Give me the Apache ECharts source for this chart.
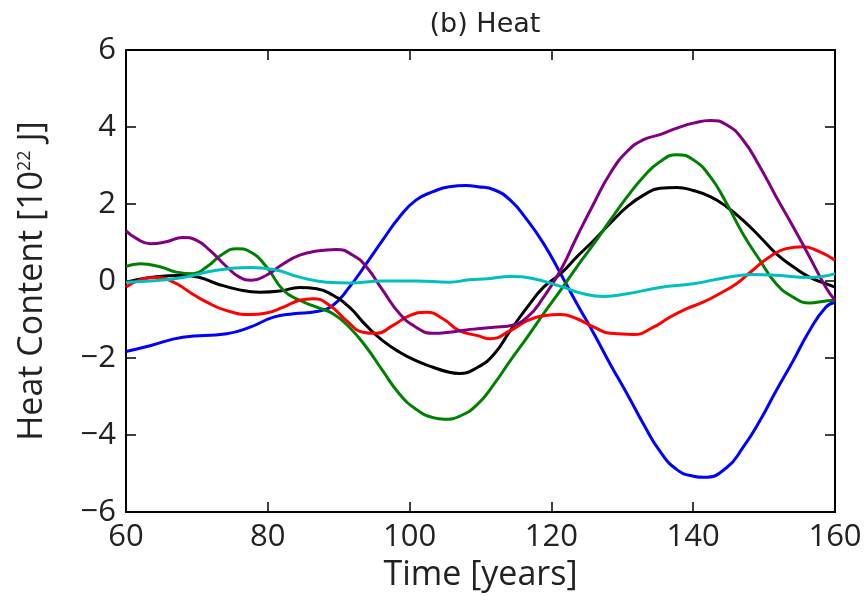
<!DOCTYPE html>
<html>
<head>
<meta charset="utf-8">
<script src="https://cdn.jsdelivr.net/npm/echarts@6/dist/echarts.min.js"></script>
<style>
html,body{margin:0;padding:0;background:#fff;}
#chart{width:867px;height:604px;}
</style>
</head>
<body>
<div id="chart"></div>
<script>
const xTicks = [60, 80, 100, 120, 140, 160];
const yTicks = [-6, -4, -2, 0, 2, 4, 6];

const blueX = [60, 63.4, 68, 74.2, 77.5, 80.8, 83.6, 86.9, 89.2, 91.5, 93.9, 96.2, 98.6, 100.9, 103.3, 105.6, 108, 109.6, 111.9, 114.2, 116.6, 118.9, 121.3, 123.6, 126, 128.3, 130.7, 133, 135.3, 137.7, 140, 141.6, 144.7, 147, 149.4, 151.7, 154.1, 156.4, 158.7, 160];
const blueY = [-1.83, -1.68, -1.46, -1.37, -1.2, -0.94, -0.85, -0.79, -0.63, -0.16, 0.45, 1.06, 1.67, 2.1, 2.32, 2.45, 2.48, 2.45, 2.37, 2.1, 1.58, 0.97, 0.19, -0.59, -1.37, -2.16, -2.94, -3.72, -4.42, -4.9, -5.07, -5.1, -4.85, -4.33, -3.63, -2.85, -2.07, -1.29, -0.68, -0.55];

const blackX = [60, 63.4, 68, 70.4, 72.8, 76, 78.9, 81.7, 84.5, 86.9, 89.2, 91.5, 93.9, 96.2, 98.6, 100.9, 103.3, 105.6, 107, 109.6, 111.9, 114.2, 116.6, 118.9, 121.3, 123.6, 126, 128.3, 130.7, 133, 135.3, 137.7, 140, 142.4, 144.7, 147, 149.4, 151.7, 154.1, 156.4, 158.7, 160];
const blackY = [-0.03, 0.09, 0.15, 0.09, -0.07, -0.23, -0.29, -0.26, -0.17, -0.2, -0.37, -0.68, -1.16, -1.55, -1.85, -2.07, -2.24, -2.37, -2.4, -2.24, -1.9, -1.29, -0.68, -0.16, 0.19, 0.63, 1.06, 1.5, 1.93, 2.23, 2.41, 2.43, 2.35, 2.19, 1.93, 1.58, 1.15, 0.71, 0.37, 0.1, -0.07, -0.16];

const greenX = [60, 62, 64.8, 67.1, 69.5, 71.4, 73.7, 75.6, 77.5, 79.8, 82.2, 84.5, 86.9, 89.2, 91.5, 93.9, 96.2, 98.6, 100.9, 103.3, 104.9, 107.2, 109.6, 111.9, 114.2, 116.6, 118.9, 121.3, 123.6, 126, 128.3, 130.7, 133, 135.3, 137.7, 140, 142.4, 144.7, 147, 149.4, 151.7, 154.1, 156.4, 158.7, 160];
const greenY = [0.38, 0.45, 0.37, 0.23, 0.19, 0.37, 0.71, 0.84, 0.76, 0.37, -0.24, -0.5, -0.68, -0.85, -1.2, -1.72, -2.33, -2.94, -3.33, -3.55, -3.59, -3.5, -3.2, -2.68, -2.07, -1.46, -0.85, -0.24, 0.37, 0.97, 1.58, 2.19, 2.71, 3.1, 3.28, 3.15, 2.71, 2.02, 1.23, 0.54, -0.07, -0.42, -0.57, -0.52, -0.5];

const purpleX = [60, 61.5, 63.4, 65.7, 68, 69.9, 71.8, 74.2, 76, 77.7, 79.8, 82.2, 84.5, 86.9, 89.7, 92, 93.9, 96.2, 98.6, 100.9, 103.3, 105.6, 108, 109.6, 111.9, 114.2, 116.6, 118.9, 121.3, 123.6, 126, 128.3, 130.7, 133, 135.3, 137.7, 140, 142.4, 144.7, 147, 149.4, 151.7, 154.1, 156.4, 158.7, 160];
const purpleY = [1.3, 1.1, 0.97, 1.02, 1.13, 1.06, 0.8, 0.37, 0.1, 0.02, 0.15, 0.45, 0.67, 0.78, 0.82, 0.67, 0.37, -0.24, -0.85, -1.2, -1.36, -1.33, -1.27, -1.24, -1.2, -1.16, -0.94, -0.42, 0.28, 1.15, 2.02, 2.8, 3.37, 3.67, 3.8, 3.97, 4.1, 4.17, 4.06, 3.67, 2.97, 2.19, 1.41, 0.63, -0.16, -0.5];

const redX = [60, 62, 64.3, 66.7, 69, 71.4, 74.2, 77.5, 79.8, 82.2, 84.5, 86.4, 88.7, 91.1, 93.4, 95.3, 97.6, 100, 102.4, 104.7, 107, 109.6, 111.4, 114.2, 116.6, 118.9, 121.3, 123.6, 126, 128.3, 131.6, 134.4, 136.7, 139.1, 141.4, 143.7, 146.1, 148.4, 150.8, 153.1, 155.5, 157.8, 160];
const redY = [-0.16, 0.03, 0.09, -0.03, -0.29, -0.55, -0.77, -0.87, -0.83, -0.68, -0.5, -0.46, -0.63, -1.03, -1.33, -1.36, -1.16, -0.9, -0.81, -0.98, -1.29, -1.42, -1.5, -1.29, -1.03, -0.9, -0.87, -0.98, -1.2, -1.36, -1.39, -1.2, -0.94, -0.72, -0.55, -0.33, -0.07, 0.28, 0.63, 0.84, 0.89, 0.76, 0.54];

const cyanX = [60, 63.4, 68, 72.8, 77.5, 80.8, 84.5, 88.3, 91.5, 96.2, 100.9, 105.6, 108.4, 111, 114.2, 117.5, 121.3, 124.5, 127.4, 130.7, 135.3, 140, 144.7, 148.4, 151.7, 156.4, 160];
const cyanY = [-0.03, 0, 0.09, 0.28, 0.35, 0.3, 0.1, -0.03, -0.05, 0, 0, -0.03, 0.03, 0.06, 0.12, 0.06, -0.14, -0.33, -0.4, -0.33, -0.17, -0.07, 0.09, 0.17, 0.15, 0.09, 0.19];

const zip = (xs, ys) => xs.map((x, i) => [x, ys[i]]);
const fmtMinus = v => String(v).replace('-', '\u2212');

const tickFont = { fontFamily: 'Open Sans', fontSize: 31, color: '#222' };
const frameLine = { onZero: false, lineStyle: { color: '#000', width: 2 } };
const tickStyle = { inside: true, length: 10, lineStyle: { color: '#000', width: 1.5 } };

function mkSeries(name, xs, ys, color) {
  return {
    name: name, type: 'line', data: zip(xs, ys), smooth: 0.5,
    showSymbol: false, symbol: 'none', clip: true,
    lineStyle: { color: color, width: 3 }, itemStyle: { color: color },
    xAxisIndex: 0, yAxisIndex: 0
  };
}

const chart = echarts.init(document.getElementById('chart'), null, { renderer: 'canvas' });
chart.setOption({
  animation: false,
  backgroundColor: '#fff',
  title: {
    text: '(b) Heat', left: 480, top: 6, textAlign: 'center',
    textStyle: { fontFamily: 'DejaVu Sans', fontSize: 27, fontWeight: 'normal', color: '#222' }
  },
  grid: { left: 126, right: 32, top: 50, bottom: 92, containLabel: false },
  xAxis: [{
    type: 'value', min: 60, max: 160, interval: 20, position: 'bottom',
    name: 'Time [years]', nameLocation: 'middle', nameGap: 44,
    nameTextStyle: { fontFamily: 'Open Sans', fontSize: 34, color: '#222' },
    axisLine: frameLine, axisTick: tickStyle,
    axisLabel: Object.assign({ margin: 10, formatter: v => xTicks.includes(v) ? String(v) : '' }, tickFont),
    splitLine: { show: false }
  }, {
    type: 'value', min: 60, max: 160, interval: 20, position: 'top',
    axisLine: frameLine, axisTick: tickStyle,
    axisLabel: { show: false }, splitLine: { show: false }
  }],
  yAxis: [{
    type: 'value', min: -6, max: 6, interval: 2, position: 'left',
    name: '{a|Heat Content [10}{s|22}{a| J]}', nameLocation: 'middle', nameGap: 74, nameRotate: 90,
    nameTextStyle: {
      rich: {
        a: { fontFamily: 'Open Sans', fontSize: 34, color: '#222', lineHeight: 40 },
        s: { fontFamily: 'Open Sans', fontSize: 18, color: '#222', lineHeight: 40, padding: [0, 0, 14, 0] }
      }
    },
    axisLine: frameLine, axisTick: tickStyle,
    axisLabel: Object.assign({ margin: 10, formatter: v => yTicks.includes(v) ? fmtMinus(v) : '' }, tickFont),
    splitLine: { show: false }
  }, {
    type: 'value', min: -6, max: 6, interval: 2, position: 'right',
    axisLine: frameLine, axisTick: tickStyle,
    axisLabel: { show: false }, splitLine: { show: false }
  }],
  series: [
    mkSeries('blue', blueX, blueY, '#0000ff'),
    mkSeries('black', blackX, blackY, '#000000'),
    mkSeries('green', greenX, greenY, '#008000'),
    mkSeries('red', redX, redY, '#ff0000'),
    mkSeries('purple', purpleX, purpleY, '#800080'),
    mkSeries('cyan', cyanX, cyanY, '#00bfbf')
  ]
});
</script>
</body>
</html>
